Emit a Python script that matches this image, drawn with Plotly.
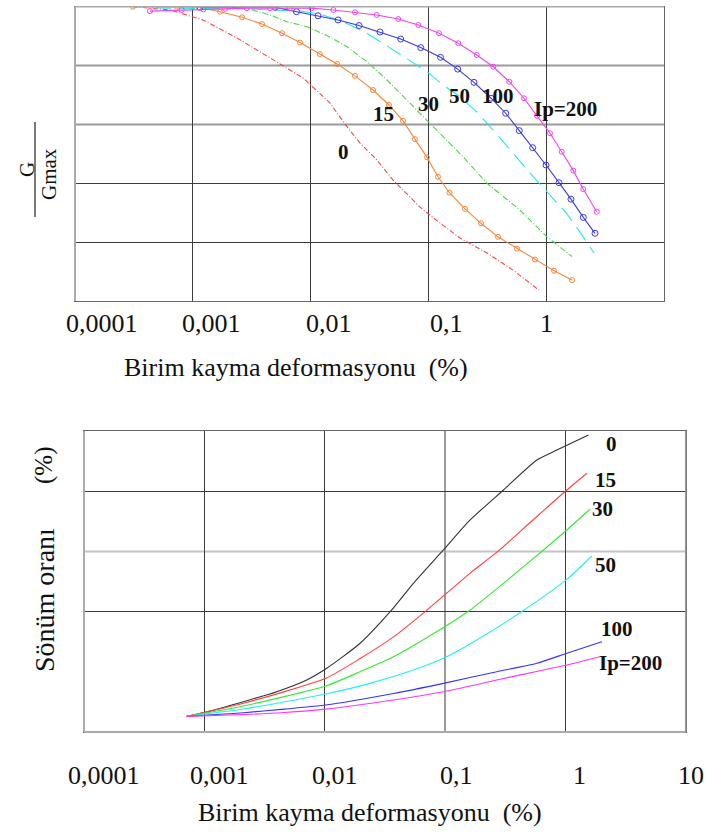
import math
import plotly.graph_objects as go

# ---------------- Top chart: G/Gmax vs shear strain (%) ----------------
g_ip0_x = [0.000310, 0.000640, 0.00122, 0.00237, 0.00452, 0.00862, 0.0146, 0.0196, 0.0262,
           0.0366, 0.0501, 0.0849, 0.1255, 0.1854, 0.3144, 0.5228, 0.8688]
g_ip0_y = [1.0, 0.989, 0.955, 0.894, 0.826, 0.758, 0.673, 0.601, 0.537,
           0.479, 0.411, 0.319, 0.265, 0.214, 0.163, 0.105, 0.037]

g_ip15_x = [0.000310, 0.000478, 0.000734, 0.00113, 0.00170, 0.00262, 0.00387, 0.00572, 0.00813,
            0.0120, 0.0168, 0.0238, 0.0339, 0.0463, 0.0609, 0.0769, 0.0973, 0.1206, 0.1510,
            0.2045, 0.2796, 0.3898, 0.5651, 0.8035, 1.165, 1.656]
g_ip15_y = [1.0, 1.0, 1.0, 0.998, 0.983, 0.964, 0.941, 0.910, 0.878,
            0.839, 0.805, 0.765, 0.717, 0.666, 0.612, 0.550, 0.488, 0.422, 0.368,
            0.313, 0.264, 0.218, 0.178, 0.141, 0.103, 0.071]

g_ip30_x = [0.00207, 0.00306, 0.00452, 0.00631, 0.00932, 0.01378, 0.0204, 0.0301, 0.0445,
            0.0658, 0.0973, 0.133, 0.197, 0.3144, 0.5991, 1.016, 1.656]
g_ip30_y = [1.0, 0.991, 0.972, 0.949, 0.932, 0.902, 0.864, 0.813, 0.751,
            0.683, 0.615, 0.558, 0.490, 0.400, 0.309, 0.218, 0.151]

g_ip50_x = [0.000478, 0.00306, 0.00813, 0.0120, 0.0155, 0.0216, 0.0301, 0.0412, 0.0671,
            0.0973, 0.133, 0.1854, 0.2586, 0.4053, 0.5651, 0.835, 1.077, 1.502, 1.936, 2.545]
g_ip50_y = [0.996, 0.992, 0.985, 0.975, 0.961, 0.938, 0.910, 0.876, 0.821,
            0.779, 0.734, 0.694, 0.642, 0.554, 0.486, 0.408, 0.360, 0.296, 0.234, 0.163]

g_ip100_x = [0.00115, 0.00499, 0.00759, 0.01156, 0.0171, 0.0258, 0.0388, 0.0582, 0.0861,
             0.1267, 0.1773, 0.2438, 0.340, 0.4531, 0.5909, 0.768, 0.996, 1.284, 1.623,
             2.065, 2.596]
g_ip100_y = [0.998, 0.998, 0.983, 0.969, 0.955, 0.936, 0.914, 0.890, 0.861,
             0.828, 0.788, 0.743, 0.689, 0.638, 0.579, 0.521, 0.462, 0.402, 0.346,
             0.284, 0.230]

g_ip200_x = [0.000433, 0.000805, 0.00123, 0.00188, 0.00287, 0.00452, 0.00668, 0.0102, 0.0156,
             0.0238, 0.0364, 0.0555, 0.0821, 0.123, 0.1794, 0.257, 0.3556, 0.486, 0.648,
             0.835, 1.077, 1.354, 1.699, 2.065, 2.684]
g_ip200_y = [0.985, 0.989, 0.991, 0.993, 0.995, 0.995, 0.995, 0.995, 0.989,
             0.981, 0.972, 0.958, 0.938, 0.910, 0.876, 0.836, 0.796, 0.745, 0.689,
             0.629, 0.570, 0.507, 0.443, 0.380, 0.303]

top_labels = ["0", "15", "30", "50", "100", "Ip=200"]
top_label_x = [0.0192, 0.0412, 0.100, 0.182, 0.390, 1.47]
top_label_y = [0.506, 0.635, 0.669, 0.697, 0.697, 0.652]

# ---------------- Bottom chart: damping ratio (%) vs shear strain (%) ----------------
d_ip0_x = [0.000714, 0.000981, 0.00211, 0.0040, 0.0071, 0.0104, 0.0197, 0.0350, 0.0546,
           0.0970, 0.1617, 0.3057, 0.5796, 0.850, 1.556]
d_ip0_y = [1.3, 1.60, 2.52, 3.35, 4.32, 5.29, 7.37, 9.99, 12.35,
           15.12, 17.61, 20.10, 22.59, 23.42, 24.67]

d_ip15_x = [0.000714, 0.00211, 0.01021, 0.0197, 0.0373, 0.0684, 0.0970, 0.1617, 0.275,
            0.510, 1.029, 1.509]
d_ip15_y = [1.3, 2.38, 4.46, 6.10, 7.90, 10.0, 11.3, 13.2, 15.0,
            17.4, 20.10, 21.49]

d_ip30_x = [0.000714, 0.00211, 0.01021, 0.0197, 0.0373, 0.0970, 0.1617, 0.3057, 0.658,
            1.029, 1.608]
d_ip30_y = [1.3, 2.16, 3.82, 5.01, 6.25, 8.68, 10.13, 12.35, 15.12,
            16.78, 18.52]

d_ip50_x = [0.000714, 0.00211, 0.01021, 0.0238, 0.0546, 0.0970, 0.1958, 0.4375, 1.029, 1.661]
d_ip50_y = [1.3, 1.91, 3.16, 4.04, 5.15, 6.12, 7.81, 10.03, 12.68, 14.62]

d_ip100_x = [0.000714, 0.00211, 0.0046, 0.01021, 0.0373, 0.0970, 0.2695, 0.5796, 1.029, 2.011]
d_ip100_y = [1.3, 1.60, 1.90, 2.24, 3.20, 4.04, 5.01, 5.71, 6.54, 7.50]

d_ip200_x = [0.000714, 0.00211, 0.0046, 0.01021, 0.0373, 0.0970, 0.2695, 0.658, 1.029, 1.947]
d_ip200_y = [1.3, 1.45, 1.62, 1.90, 2.66, 3.35, 4.32, 5.15, 5.57, 6.25]

bot_labels = ["0", "15", "30", "50", "100", "Ip=200"]
bot_label_x = [2.44, 2.17, 2.05, 2.14, 2.71, 3.46]
bot_label_y = [23.9, 20.9, 18.5, 13.9, 8.55, 5.71]

# tick labels
top_tick_vals = [0.0001, 0.001, 0.01, 0.1, 1]
top_tick_text = ["0,0001", "0,001", "0,01", "0,1", "1"]
bot_tick_vals = [0.0001, 0.001, 0.01, 0.1, 1, 10]
bot_tick_text = ["0,0001", "0,001", "0,01", "0,1", "1", "10"]

# ---------------- styling ----------------
W, H = 707, 834
SERIF = "Liberation Serif, Times New Roman, serif"
XLOG_RANGE = [-4, 1]
top_tick_shift = [27, 19, 18, 18, 0]
bot_tick_shift = [20, 15, 10, 11, 14, 5]


def frac(v):
    return (math.log10(v) - XLOG_RANGE[0]) / (XLOG_RANGE[1] - XLOG_RANGE[0])


fig = go.Figure()


def add(x, y, color, dash="solid", marker=False, msize=5, xa="x", ya="y", shape="linear"):
    fig.add_trace(go.Scatter(
        x=x, y=y, xaxis=xa, yaxis=ya,
        mode="lines+markers" if marker else "lines",
        line=dict(color=color, width=1.1, dash=dash, shape=shape, smoothing=0.6),
        marker=dict(symbol="circle-open", size=msize, color=color, line=dict(width=1)),
        showlegend=False, hoverinfo="skip"))


add(g_ip0_x, g_ip0_y, "#f04848", dash="5px,2px,1px,2px")
add(g_ip15_x, g_ip15_y, "#f5873a", marker=True, msize=5)
add(g_ip30_x, g_ip30_y, "#44d844", dash="6px,2px,1px,2px")
add(g_ip50_x, g_ip50_y, "#22e8e8", dash="16px,8px")
add(g_ip100_x, g_ip100_y, "#3a3ae8", marker=True, msize=6)
add(g_ip200_x, g_ip200_y, "#ee44ee", marker=True, msize=5)

add(d_ip0_x, d_ip0_y, "#333333", xa="x2", ya="y2", shape="spline")
add(d_ip15_x, d_ip15_y, "#ff4040", xa="x2", ya="y2", shape="spline")
add(d_ip30_x, d_ip30_y, "#33e833", xa="x2", ya="y2", shape="spline")
add(d_ip50_x, d_ip50_y, "#22f0f0", xa="x2", ya="y2", shape="spline")
add(d_ip100_x, d_ip100_y, "#3333ff", xa="x2", ya="y2", shape="spline")
add(d_ip200_x, d_ip200_y, "#ff33ff", xa="x2", ya="y2", shape="spline")

grid = "#3c3c3c"
ax_common = dict(showticklabels=False, ticks="", showgrid=True, gridcolor=grid, gridwidth=1,
                 showline=True, mirror=True, linecolor="#666666", linewidth=1, zeroline=False,
                 fixedrange=True)

fig.update_layout(
    width=W, height=H, margin=dict(l=0, r=0, t=0, b=0),
    paper_bgcolor="white", plot_bgcolor="white",
    xaxis=dict(domain=[75/W, 664/W], type="log", range=XLOG_RANGE, anchor="y",
               tickvals=[0.001, 0.01, 0.1, 1], **ax_common),
    yaxis=dict(domain=[1-301/H, 1-6.7/H], range=[0, 1], anchor="x",
               tickvals=[0.2, 0.4], **ax_common),
    xaxis2=dict(domain=[84/W, 685.7/W], type="log", range=XLOG_RANGE, anchor="y2",
                tickvals=[0.001, 0.01, 1], **ax_common),
    yaxis2=dict(domain=[1-732/H, 1-431/H], range=[0, 25], anchor="x2",
                tickvals=[10, 20], **ax_common),
)

shapes = []
# lighter, thicker grid/frame lines as in the scan
for yv in [0.6, 0.8]:
    shapes.append(dict(type="line", xref="x domain", yref="y", x0=0, x1=1, y0=yv, y1=yv,
                       line=dict(color="#9a9a9a", width=2), layer="below"))
shapes.append(dict(type="line", xref="x domain", yref="y domain", x0=0, x1=0, y0=0, y1=1,
                   line=dict(color="#aaaaaa", width=2)))
shapes.append(dict(type="line", xref="x domain", yref="y domain", x0=0, x1=1, y0=1, y1=1,
                   line=dict(color="#aaaaaa", width=1.5)))
shapes.append(dict(type="line", xref="x2 domain", yref="y2", x0=0, x1=1, y0=15, y1=15,
                   line=dict(color="#c4c4c4", width=2), layer="below"))
shapes.append(dict(type="line", xref="x2 domain", yref="y2 domain", x0=frac(0.1), x1=frac(0.1),
                   y0=0, y1=1, line=dict(color="#9a9a9a", width=2), layer="below"))
shapes.append(dict(type="line", xref="x2 domain", yref="y2 domain", x0=0, x1=0, y0=0, y1=1,
                   line=dict(color="#aaaaaa", width=2)))
shapes.append(dict(type="line", xref="x2 domain", yref="y2 domain", x0=0, x1=1, y0=0, y1=0,
                   line=dict(color="#aaaaaa", width=2)))
shapes.append(dict(type="line", xref="x2 domain", yref="y2 domain", x0=1, x1=1, y0=0, y1=1,
                   line=dict(color="#999999", width=1.5)))
# fraction bar of G / Gmax
shapes.append(dict(type="line", xref="paper", yref="paper", x0=35/W, x1=35/W,
                   y0=1-217/H, y1=1-122/H, line=dict(color="#222222", width=1.2)))
fig.update_layout(shapes=shapes)

ann = []
for v, t, s in zip(top_tick_vals, top_tick_text, top_tick_shift):
    ann.append(dict(text=t, xref="x domain", yref="y domain", x=frac(v), y=0, xshift=s, yshift=-22,
                    showarrow=False, xanchor="center", yanchor="middle",
                    font=dict(family=SERIF, size=26, color="#111")))
for v, t, s in zip(bot_tick_vals, bot_tick_text, bot_tick_shift):
    ann.append(dict(text=t, xref="x2 domain", yref="y2 domain", x=frac(v), y=0, xshift=s, yshift=-43,
                    showarrow=False, xanchor="center", yanchor="middle",
                    font=dict(family=SERIF, size=26, color="#111")))

for t, x, y in zip(top_labels, top_label_x, top_label_y):
    ann.append(dict(text="<b>%s</b>" % t, xref="x", yref="y", x=math.log10(x), y=y, showarrow=False,
                    font=dict(family=SERIF, size=21, color="#111")))
for t, x, y in zip(bot_labels, bot_label_x, bot_label_y):
    ann.append(dict(text="<b>%s</b>" % t, xref="x2", yref="y2", x=math.log10(x), y=y, showarrow=False,
                    font=dict(family=SERIF, size=21, color="#111")))

title = "Birim kayma deformasyonu\u00a0\u00a0(%)"
ann.append(dict(text=title, xref="paper", yref="paper", x=296/W, y=1-368/H, showarrow=False,
                xanchor="center", yanchor="middle", font=dict(family=SERIF, size=26, color="#111")))
ann.append(dict(text=title, xref="paper", yref="paper", x=370/W, y=1-812/H, showarrow=False,
                xanchor="center", yanchor="middle", font=dict(family=SERIF, size=26, color="#111")))

ann.append(dict(text="G", xref="paper", yref="paper", x=27/W, y=1-170/H, showarrow=False, textangle=-90,
                xanchor="center", yanchor="middle", font=dict(family=SERIF, size=21, color="#111")))
ann.append(dict(text="Gmax", xref="paper", yref="paper", x=49/W, y=1-174/H, showarrow=False, textangle=-90,
                xanchor="center", yanchor="middle", font=dict(family=SERIF, size=21, color="#111")))
ann.append(dict(text="Sönüm oranı", xref="paper", yref="paper", x=44/W, y=1-600/H, showarrow=False,
                textangle=-90, xanchor="center", yanchor="middle",
                font=dict(family=SERIF, size=28, color="#111")))
ann.append(dict(text="(%)", xref="paper", yref="paper", x=44/W, y=1-466/H, showarrow=False,
                textangle=-90, xanchor="center", yanchor="middle",
                font=dict(family=SERIF, size=25, color="#111")))

fig.update_layout(annotations=ann)
fig.write_html("out.html")
